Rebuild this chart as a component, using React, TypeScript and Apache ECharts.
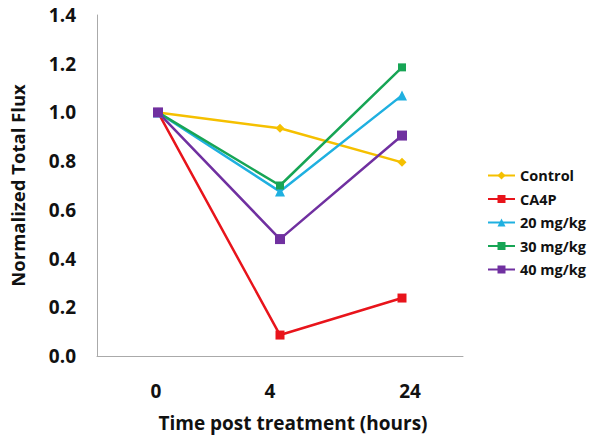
import React, { useEffect, useRef } from "react";
import * as echarts from "echarts";

const categories = ["0", "4", "24"];
const control = [1.0, 0.935, 0.795];
const ca4p = [1.0, 0.086, 0.238];
const mg20 = [1.0, 0.675, 1.07];
const mg30 = [1.0, 0.7, 1.185];
const mg40 = [1.0, 0.48, 0.905];
const yTicks = { min: 0, max: 1.4, interval: 0.2 };

const FONT = "'Open Sans', 'Liberation Sans', sans-serif";

export default function App() {
  const ref = useRef<HTMLDivElement>(null);
  useEffect(() => {
    if (!ref.current) return;
    const chart = echarts.init(ref.current, null, { renderer: "svg" });
    const mk = (name: string, data: number[], color: string, symbol: string, size: number) => ({
      name,
      type: "line",
      data,
      symbol,
      symbolSize: size,
      lineStyle: { color, width: 2.5 },
      itemStyle: { color },
    });
    const lbl = { fontFamily: FONT, fontWeight: "bold", fontSize: 19, color: "#111" };
    chart.setOption({
      animation: false,
      grid: { left: 93, right: 139, top: 15, bottom: 87 },
      legend: {
        orient: "vertical",
        left: 482,
        top: 163,
        itemWidth: 27,
        itemHeight: 10,
        itemGap: 8.5,
        textStyle: { fontFamily: FONT, fontWeight: "bold", fontSize: 14.5, color: "#111" },
      },
      xAxis: {
        type: "category",
        data: categories,
        boundaryGap: true,
        name: "Time post treatment (hours)",
        nameLocation: "middle",
        nameGap: 57,
        nameTextStyle: { fontFamily: FONT, fontWeight: "bold", fontSize: 19, color: "#111", padding: [0, 0, 0, 26] },
        axisLine: { lineStyle: { color: "#aaa", width: 1 } },
        axisTick: { show: false },
        axisLabel: {
          ...lbl,
          margin: 25,
          formatter: (v: string, i: number) => `{c${i}|${v}}`,
          rich: {
            c0: { ...lbl, padding: [0, 4, 0, 0] },
            c1: { ...lbl, padding: [0, 20, 0, 0] },
            c2: { ...lbl, padding: [0, 0, 0, 16] },
          },
        },
      },
      yAxis: {
        type: "value",
        min: yTicks.min,
        max: yTicks.max,
        interval: yTicks.interval,
        name: "Normalized Total Flux",
        nameLocation: "middle",
        nameGap: 70,
        nameTextStyle: { fontFamily: FONT, fontWeight: "bold", fontSize: 18.5, color: "#111" },
        axisLine: { show: true, lineStyle: { color: "#aaa", width: 1 } },
        axisTick: { show: false },
        splitLine: { show: false },
        axisLabel: {
          ...lbl,
          margin: 21,
          formatter: (v: number) => v.toFixed(1),
        },
      },
      series: [
        mk("Control", control, "#F5C000", "diamond", 9),
        mk("CA4P", ca4p, "#E8141B", "rect", 9),
        mk("20 mg/kg", mg20, "#1FB0E0", "triangle", 10),
        mk("30 mg/kg", mg30, "#17A555", "rect", 8),
        mk("40 mg/kg", mg40, "#7030A0", "rect", 10),
      ],
    });
    return () => chart.dispose();
  }, []);
  return <div ref={ref} style={{ width: 602, height: 443, position: "absolute", left: 0, top: 0 }} />;
}
